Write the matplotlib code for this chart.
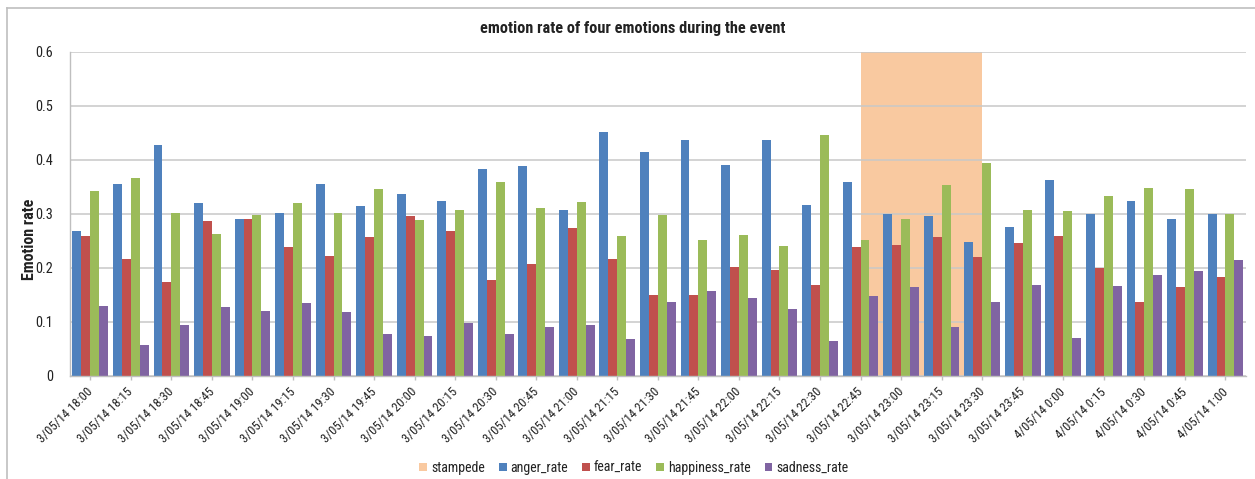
import matplotlib
matplotlib.use("Agg")
import matplotlib.pyplot as plt
import matplotlib.transforms as mtransforms
from matplotlib.lines import Line2D
import numpy as np

plt.rcParams['font.family'] = ['Roboto Condensed', 'Roboto', 'DejaVu Sans']

categories = [
    "3/05/14 18:00", "3/05/14 18:15", "3/05/14 18:30", "3/05/14 18:45",
    "3/05/14 19:00", "3/05/14 19:15", "3/05/14 19:30", "3/05/14 19:45",
    "3/05/14 20:00", "3/05/14 20:15", "3/05/14 20:30", "3/05/14 20:45",
    "3/05/14 21:00", "3/05/14 21:15", "3/05/14 21:30", "3/05/14 21:45",
    "3/05/14 22:00", "3/05/14 22:15", "3/05/14 22:30", "3/05/14 22:45",
    "3/05/14 23:00", "3/05/14 23:15", "3/05/14 23:30", "3/05/14 23:45",
    "4/05/14 0:00", "4/05/14 0:15", "4/05/14 0:30", "4/05/14 0:45",
    "4/05/14 1:00",
]

anger_rate = [0.268, 0.355, 0.428, 0.319, 0.290, 0.302, 0.355, 0.315,
              0.337, 0.323, 0.383, 0.389, 0.307, 0.452, 0.414, 0.436,
              0.390, 0.436, 0.316, 0.359, 0.299, 0.296, 0.247, 0.275,
              0.363, 0.299, 0.323, 0.290, 0.299]
fear_rate = [0.258, 0.217, 0.173, 0.287, 0.290, 0.239, 0.221, 0.256,
             0.296, 0.268, 0.178, 0.206, 0.274, 0.217, 0.149, 0.150,
             0.202, 0.196, 0.168, 0.239, 0.242, 0.256, 0.219, 0.246,
             0.258, 0.199, 0.137, 0.165, 0.182]
happiness_rate = [0.342, 0.366, 0.301, 0.263, 0.298, 0.319, 0.301, 0.345,
                  0.288, 0.307, 0.358, 0.310, 0.321, 0.259, 0.298, 0.252,
                  0.260, 0.240, 0.446, 0.251, 0.291, 0.354, 0.393, 0.306,
                  0.305, 0.332, 0.348, 0.346, 0.299]
sadness_rate = [0.130, 0.057, 0.093, 0.128, 0.119, 0.135, 0.118, 0.078,
                0.074, 0.097, 0.077, 0.091, 0.093, 0.068, 0.136, 0.156,
                0.143, 0.123, 0.065, 0.148, 0.164, 0.090, 0.137, 0.168,
                0.070, 0.166, 0.186, 0.193, 0.215]
stampede = [0, 0, 0, 0, 0, 0, 0, 0, 0, 0, 0, 0, 0, 0, 0, 0, 0, 0, 0,
            0.6, 0.6, 0.6, 0.6, 0, 0, 0, 0, 0, 0]

series_names = ["anger_rate", "fear_rate", "happiness_rate", "sadness_rate"]
colors = ["#4F81BD", "#C0504D", "#9BBB59", "#8064A2"]
stampede_color = "#F9C9A0"

W, H = 1255, 479
fig = plt.figure(figsize=(W / 100, H / 100), dpi=100)
ax = fig.add_axes([70 / W, 1 - 375.7 / H, (1245.7 - 70) / W, (375.7 - 51.7) / H])

x = np.arange(len(categories))
st = np.array(stampede)
ax.fill_between(x, 0, st, where=st > 0, color=stampede_color, linewidth=0,
                zorder=0.3, label="stampede")

bw = 0.22
offsets = [-1.5 * bw, -0.5 * bw, 0.5 * bw, 1.5 * bw]
for vals, name, c, off in zip([anger_rate, fear_rate, happiness_rate, sadness_rate],
                              series_names, colors, offsets):
    ax.bar(x + off, vals, width=bw, color=c, label=name, zorder=2, linewidth=0)

ax.set_xlim(-0.5, len(categories) - 0.5)
ax.set_ylim(0, 0.6)
ax.set_yticks([0, 0.1, 0.2, 0.3, 0.4, 0.5, 0.6])
ax.set_yticklabels(["0", "0.1", "0.2", "0.3", "0.4", "0.5", "0.6"])
ax.set_axisbelow(True)
ax.yaxis.grid(True, color="#C8C8C8", linewidth=1.1)
ax.xaxis.grid(False)

for s in ["top", "right"]:
    ax.spines[s].set_visible(False)
for s in ["left", "bottom"]:
    ax.spines[s].set_color("#BFBFBF")
    ax.spines[s].set_linewidth(1.0)

ax.tick_params(axis="y", length=0, pad=12, labelsize=10.3, labelcolor="#222222")
ax.tick_params(axis="x", length=3, color="#BFBFBF", width=1, pad=4,
               labelsize=9.2, labelcolor="#222222")
ax.set_xticks(x)
ax.set_xticklabels(categories, rotation=45, ha="right", va="top")
offset = mtransforms.ScaledTranslation(5 / 100, 0, fig.dpi_scale_trans)
for lbl in ax.get_xticklabels():
    lbl.set_transform(lbl.get_transform() + offset)

ax.set_ylabel("Emotion rate", fontsize=11.5, fontweight="bold", color="#222222")
ax.yaxis.set_label_coords(30 / W, 0.5, transform=fig.transFigure)
ax.yaxis.label.set_va("center")

fig.text(633 / W, 1 - 29 / H, "emotion rate of four emotions during the event",
         ha="center", va="center", fontsize=11.7, fontweight="bold",
         color="#222222")

handles, labels = ax.get_legend_handles_labels()
fig.legend(handles, labels, loc="center", bbox_to_anchor=(634 / W, 1 - 468 / H),
           ncol=5, frameon=False, fontsize=10, handlelength=0.55,
           handleheight=0.55, handletextpad=0.3, columnspacing=1.0,
           labelcolor="#222222")

# outer chart frame (left and top edges)
fig.add_artist(Line2D([7 / W, 7 / W], [0, 1 - 8 / H], transform=fig.transFigure,
                      color="#BFBFBF", linewidth=1.2))
fig.add_artist(Line2D([7 / W, 1], [1 - 8 / H, 1 - 8 / H], transform=fig.transFigure,
                      color="#BFBFBF", linewidth=1.2))

fig.savefig("out.png", dpi=100, facecolor="white")
